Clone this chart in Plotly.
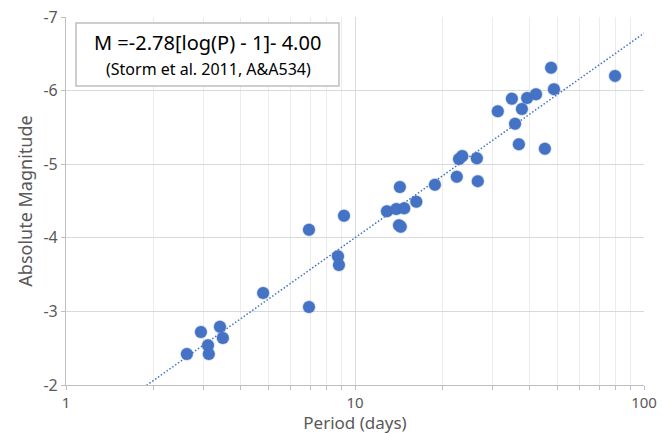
import math
import plotly.graph_objects as go

# Cepheid data: period (days) and absolute magnitude
period = [2.62, 2.93, 3.10, 3.12, 3.41, 3.49, 4.81, 6.93, 6.93, 8.73, 8.80, 9.16,
          12.9, 13.9, 14.8, 14.3, 14.2, 14.4, 16.3, 18.9, 22.5, 22.9, 23.5, 26.4, 26.6,
          31.2, 34.9, 35.8, 36.9, 37.8, 39.4, 42.3, 45.4, 47.7, 48.8, 79.4]
abs_mag = [-2.42, -2.72, -2.54, -2.42, -2.79, -2.64, -3.25, -3.06, -4.11, -3.75, -3.63, -4.30,
           -4.36, -4.39, -4.40, -4.69, -4.17, -4.15, -4.49, -4.72, -4.83, -5.07, -5.11, -5.08, -4.77,
           -5.72, -5.89, -5.55, -5.27, -5.75, -5.90, -5.95, -5.21, -6.31, -6.02, -6.20]

# Trend line  M = a[log(P) - 1] + b  (Storm et al. 2011)
slope = -2.78
intercept = -4.00
line_period = [1.9, 100]

x_ticks = [1, 10, 100]
x_tick_text = ["1", "10", "100"]
x_minor = [2, 3, 4, 5, 6, 7, 8, 9, 20, 30, 40, 50, 60, 70, 80, 90]
y_ticks = [-2, -3, -4, -5, -6, -7]
y_tick_text = ["-2", "-3", "-4", "-5", "-6", "-7"]

line_mag = [slope * (math.log10(p) - 1) + intercept for p in line_period]

BLUE = "#4472C4"
FONT = "Noto Sans"
ML, MR, MT, MB = 66, 18, 17, 49
W, H = 662, 434
PW, PH = W - ML - MR, H - MT - MB


def px(x):
    return (x - ML) / PW


def py(y):
    return (H - MB - y) / PH


fig = go.Figure()
fig.add_trace(go.Scatter(
    x=line_period, y=line_mag, mode="lines",
    line=dict(color=BLUE, width=1.5, dash="1.5px,2px"),
    hoverinfo="skip", showlegend=False,
))
fig.add_trace(go.Scatter(
    x=period, y=abs_mag, mode="markers",
    marker=dict(color=BLUE, size=12, line=dict(color="rgba(68,114,196,0.3)", width=1.5)),
    showlegend=False,
))

fig.update_layout(
    width=W, height=H,
    margin=dict(l=ML, r=MR, t=MT, b=MB),
    paper_bgcolor="white", plot_bgcolor="white",
    font=dict(family=FONT, color="#595959", size=15),
    xaxis=dict(
        type="log", range=[0, 2], automargin=False,
        tickvals=x_ticks, ticktext=x_tick_text,
        showgrid=True, gridcolor="#d9d9d9", gridwidth=1.2,
        showline=True, linecolor="#bfbfbf", linewidth=1.2,
        ticks="outside", ticklen=4, tickcolor="#bfbfbf",
        tickfont=dict(size=15, color="#595959"),
        minor=dict(tickvals=x_minor, showgrid=True, gridcolor="#ececec", gridwidth=1,
                   ticks="outside", ticklen=4, tickcolor="#bfbfbf"),
        title=dict(text="Period (days)", font=dict(size=17, color="#595959"), standoff=9),
        zeroline=False,
    ),
    yaxis=dict(
        range=[-2, -7], automargin=False,
        tickvals=y_ticks, ticktext=y_tick_text,
        showgrid=True, gridcolor="#d9d9d9", gridwidth=1.2,
        showline=True, linecolor="#bfbfbf", linewidth=1.2,
        ticks="outside", ticklen=4, tickcolor="#bfbfbf",
        tickfont=dict(size=16, color="#595959"),
        title=dict(text="Absolute Magnitude", font=dict(size=18, color="#595959"), standoff=6),
        zeroline=False,
    ),
)

# Equation box
fig.add_shape(type="rect", xref="paper", yref="paper",
              x0=px(76), x1=px(339), y0=py(86), y1=py(23),
              line=dict(color="#bfbfbf", width=1.5), fillcolor="white", layer="above")
fig.add_annotation(xref="paper", yref="paper", xanchor="center", yanchor="middle",
                   x=px(207), y=py(42),
                   text="M =-2.78[log(P) - 1]- 4.00", showarrow=False,
                   font=dict(size=20, color="#000000", family=FONT))
fig.add_annotation(xref="paper", yref="paper", xanchor="center", yanchor="middle",
                   x=px(208), y=py(69),
                   text="(Storm et al. 2011, A&A534)", showarrow=False,
                   font=dict(size=16, color="#000000", family=FONT))

fig.write_html("out.html", config={"displayModeBar": False},
               post_script="document.body.style.margin='0';")
